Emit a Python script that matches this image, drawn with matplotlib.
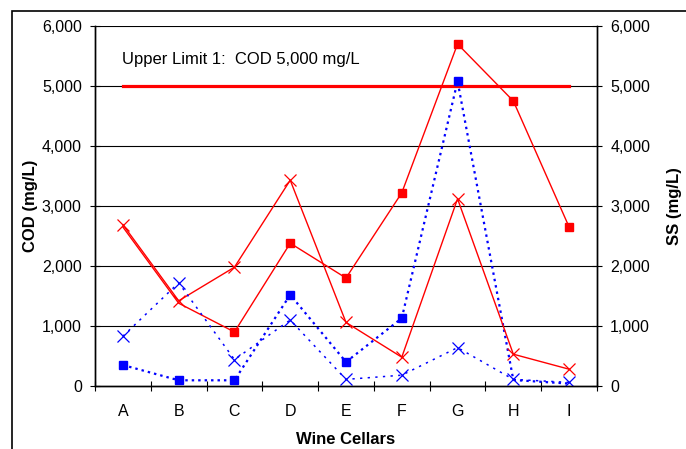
import matplotlib.pyplot as plt
from matplotlib.patches import Rectangle

plt.rcParams['font.family'] = ['Liberation Sans', 'DejaVu Sans']

cellars = ['A', 'B', 'C', 'D', 'E', 'F', 'G', 'H', 'I']

# COD (left axis)
cod_red = [2650, 1380, 900, 2380, 1800, 3220, 5700, 4750, 2650]
cod_blue = [350, 95, 95, 1520, 400, 1130, 5080, 100, 40]
# SS (right axis)
ss_red = [2690, 1420, 1980, 3430, 1060, 480, 3120, 530, 280]
ss_blue = [830, 1720, 440, 1100, 110, 180, 640, 110, 60]

cod_limit = 5000
yticks = [0, 1000, 2000, 3000, 4000, 5000, 6000]

fig = plt.figure(figsize=(6.86, 4.49), dpi=100)
ax = fig.add_axes([95/686, 63/449, 502/686, 360/449])
ax2 = ax.twinx()

x = [i + 0.5 for i in range(len(cellars))]

for yv in yticks[1:]:
    ax.axhline(yv, color='black', lw=0.8, zorder=0)

ax.plot([x[0], x[-1]], [cod_limit, cod_limit], color='#ff0000', lw=2.3, zorder=2)
ax.text(x[0] - 0.02, 5450, 'Upper Limit 1:  COD 5,000 mg/L', fontsize=12,
        ha='left', va='center')

ax.plot(x, cod_red, color='#ff0000', lw=1.0, marker='s', ms=6.2,
        mec='#ff0000', mfc='#ff0000', markevery=list(range(2, 9)), zorder=3)
ax.plot(x, cod_blue, color='#0000ff', lw=1.6, ls=(0, (1.1, 1.8)), marker='s',
        ms=6.2, mec='#0000ff', mfc='#0000ff', markevery=list(range(0, 7)), zorder=3)
ax.plot(x, ss_red, color='#ff0000', lw=1.0, marker='x', ms=8.5, mew=0.9, zorder=3)
ax.plot(x, ss_blue, color='#0000ff', lw=1.1, ls=(0, (1.5, 3.5)), marker='x',
        ms=8.5, mew=0.9, zorder=3)

for a in (ax, ax2):
    a.set_xlim(0, 9)
    a.set_ylim(0, 6000)
    a.set_yticks(yticks)
    a.set_yticklabels(['{:,}'.format(v) for v in yticks])
    a.tick_params(axis='y', direction='inout', length=7, width=0.8, labelsize=11.5, pad=6)
    a.spines['top'].set_visible(False)
    for s in ('left', 'right', 'bottom'):
        a.spines[s].set_linewidth(1.0)

ax.set_xticks(range(0, 10), minor=True)
ax.set_xticks(x)
ax.set_xticklabels(cellars)
ax.tick_params(axis='x', which='major', length=0, labelsize=11.5, pad=13)
ax.tick_params(axis='x', which='minor', direction='inout', length=7, width=0.8)

ax.set_ylabel('COD (mg/L)', fontsize=12, fontweight='bold', labelpad=3)
ax2.set_ylabel('SS (mg/L)', fontsize=12, fontweight='bold', labelpad=12)
ax.set_xlabel('Wine Cellars', fontsize=12, fontweight='bold', labelpad=9)

fig.add_artist(Rectangle((12/686, -0.2), 1.2, 1.2 - 11/449,
                         transform=fig.transFigure, fill=False, lw=1.2,
                         edgecolor='black', clip_on=False))

fig.savefig('out.png', dpi=100)
